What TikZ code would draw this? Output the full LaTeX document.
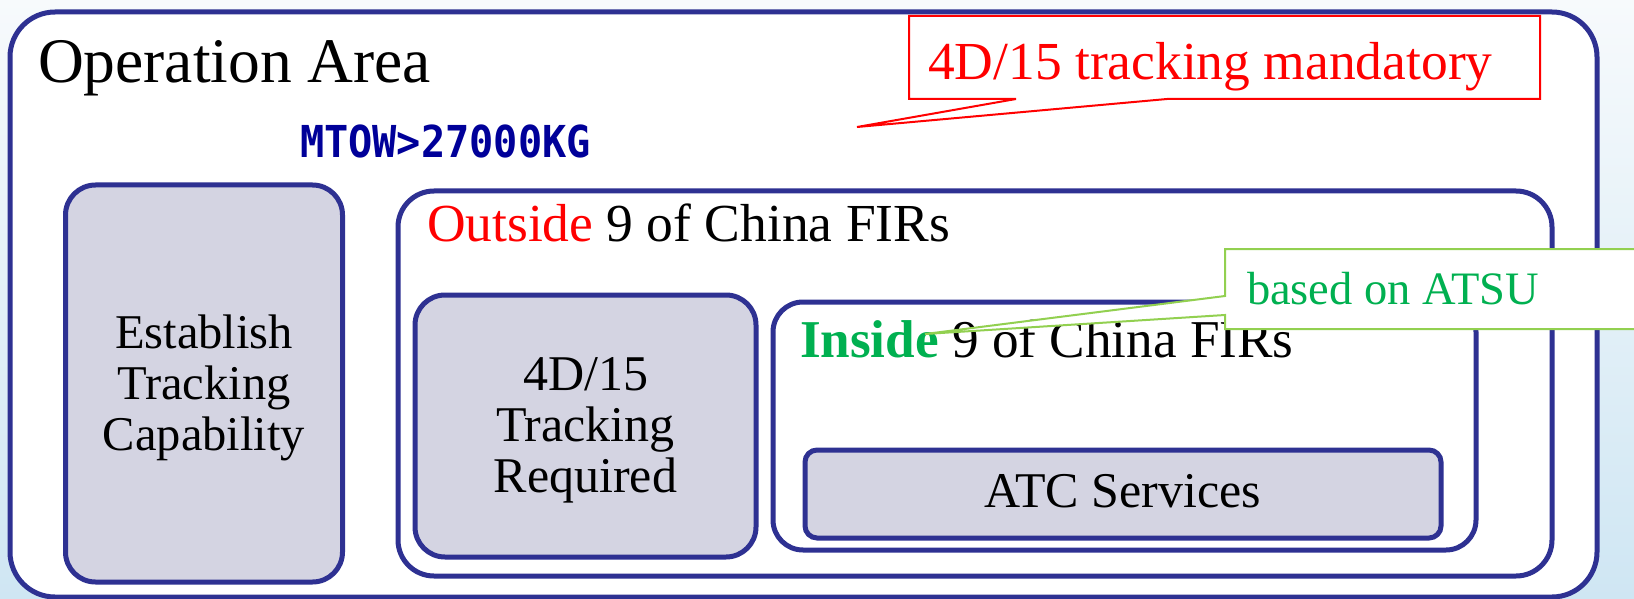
\documentclass[tikz,border=0pt]{standalone}
\usepackage{fontspec}
\setmainfont{Liberation Serif}
\newfontfamily\mtowfont{DejaVu Sans Mono}[FakeStretch=0.915]
\definecolor{boxline}{HTML}{2E3192}
\definecolor{boxfill}{HTML}{D4D4E2}
\definecolor{mtowblue}{HTML}{000099}
\definecolor{okgreen}{HTML}{00B050}
\definecolor{callgreen}{HTML}{92D050}
\definecolor{bgtop}{HTML}{F7FAFC}
\definecolor{bgbottom}{HTML}{CFE6F3}
\begin{document}
\begin{tikzpicture}[x=1pt,y=-1pt,
  frame/.style={draw=boxline, line width=5pt, fill=white, rectangle, inner sep=0pt},
  grayframe/.style={frame, fill=boxfill},
  txt/.style={inner sep=0pt, outer sep=0pt},
  redcall/.style={draw=red, line width=2pt, fill=white, line join=miter},
  greencall/.style={draw=callgreen, line width=2pt, fill=white, line join=miter}]
\useasboundingbox (0,0) rectangle (1634,599);
\shade[top color=bgtop, bottom color=bgbottom] (0,0) rectangle (1634,599);
% outer operation area
\node[frame, rounded corners=45pt, minimum width=1587pt, minimum height=585pt] (area) at (803.5,304.5) {};
\node[txt, anchor=base west, font=\fontsize{63.5}{70}\selectfont] (areatxt) at (38,83) {Operation Area};
% red callout
\coordinate (tipA) at (857,127);
\draw[redcall] (909,16) -- (1540,16) -- (1540,99) -- (1167,99) -- (tipA) -- (1016,99) -- (909,99) -- cycle;
\node[txt, anchor=base west, text=red, font=\fontsize{53.5}{60}\selectfont] (mand) at (928,80) {4D/15 tracking mandatory};
% MTOW
\node[txt, anchor=base west, text=mtowblue, font=\mtowfont\bfseries\fontsize{44}{50}\selectfont] (mtow) at (300,158) {MTOW>27000KG};
% left box
\node[grayframe, rounded corners=30pt, minimum width=277pt, minimum height=397pt] (estab) at (204,383.5) {};
\node[txt, align=center, font=\fontsize{48.5}{51}\selectfont] (estabtxt) at (204,388) {Establish\\Tracking\\Capability};
% outside box
\node[frame, rounded corners=36pt, minimum width=1154pt, minimum height=385pt] (outside) at (975,383.5) {};
\node[txt, anchor=base west, font=\fontsize{53.5}{60}\selectfont] (outsidetxt) at (427,241) {\textcolor{red}{Outside} 9 of China FIRs};
% required box
\node[grayframe, rounded corners=30pt, minimum width=341pt, minimum height=262pt] (req) at (585.5,426) {};
\node[txt, align=center, font=\fontsize{50}{51}\selectfont] (reqtxt) at (585.5,430) {4D/15\\Tracking\\Required};
% inside box
\node[frame, rounded corners=30pt, minimum width=703pt, minimum height=248pt] (inside) at (1124.5,426) {};
\node[txt, anchor=base west, font=\fontsize{53.2}{60}\selectfont] (insidetxt) at (800,357) {\textcolor{okgreen}{\bfseries Inside} 9 of China FIRs};
% ATC box
\node[grayframe, rounded corners=12pt, minimum width=636pt, minimum height=88pt] (atc) at (1123,494) {};
\node[txt, anchor=base, font=\fontsize{50}{54}\selectfont] (atctxt) at (1123,507) {ATC Services};
% green callout
\coordinate (tipB) at (925,334);
\draw[greencall] (1225,249) -- (1650,249) -- (1650,329) -- (1225,329) -- (1225,315) -- (tipB) -- (1225,296) -- cycle;
\node[txt, anchor=base west, text=okgreen, font=\fontsize{46.5}{50}\selectfont] (atsu) at (1247,304) {based on ATSU};
\end{tikzpicture}
\end{document}
